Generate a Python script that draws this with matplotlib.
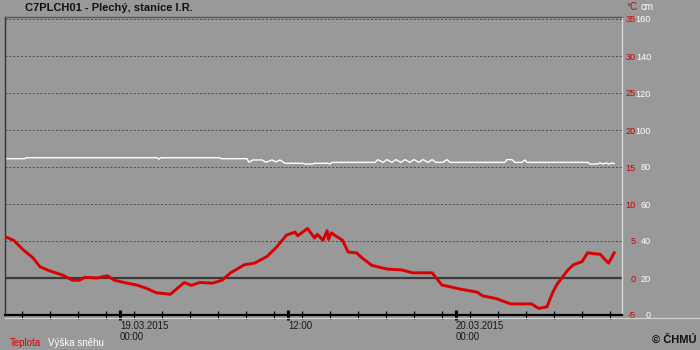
import matplotlib
matplotlib.use("Agg")
import matplotlib.pyplot as plt
import matplotlib.dates as mdates
from matplotlib.lines import Line2D
import pandas as pd

plt.rcParams['font.family'] = ['Liberation Sans', 'DejaVu Sans']

# hours relative to 19.03.2015 00:00
temp_hours = [-8.1, -7.6, -6.9, -6.2, -5.7, -5.0, -4.1, -3.4, -2.9, -2.5,
              -1.6, -0.9, -0.4, 0.5, 1.2, 1.9, 2.6, 3.6, 4.1, 4.6,
              5.1, 5.7, 6.6, 7.3, 7.9, 8.9, 9.6, 10.5, 11.2, 11.9,
              12.5, 12.7, 13.4, 13.9, 14.1, 14.5, 14.8, 14.9, 15.1, 15.4,
              15.9, 16.3, 16.9, 17.3, 18.0, 19.1, 20.1, 20.9, 22.3, 23.0,
              23.6, 24.3, 25.5, 25.9, 26.9, 27.9, 29.1, 29.4, 29.9, 30.5,
              30.9, 31.2, 31.6, 32.0, 32.4, 33.0, 33.4, 34.3, 34.9, 35.3]
temp_vals = [5.5, 5.1, 3.8, 2.7, 1.5, 0.95, 0.4, -0.3, -0.3, 0.1,
             0.0, 0.3, -0.3, -0.7, -0.95, -1.4, -2.0, -2.2, -1.4, -0.6,
             -1.0, -0.6, -0.7, -0.3, 0.7, 1.8, 2.0, 2.9, 4.2, 5.8,
             6.2, 5.7, 6.7, 5.4, 5.9, 5.1, 6.4, 5.2, 6.1, 5.7,
             5.1, 3.5, 3.4, 2.7, 1.7, 1.2, 1.1, 0.7, 0.7, -0.95,
             -1.2, -1.5, -1.9, -2.4, -2.8, -3.5, -3.5, -3.5, -4.1, -3.9,
             -2.0, -0.9, 0.1, 1.1, 1.8, 2.2, 3.4, 3.2, 2.0, 3.4]

snow_hours = [-8.14, -6.79, -6.71, 2.64, 2.79, 2.93, 7.14, 7.21, 9.07, 9.21,
              9.5, 10.14, 10.43, 10.86, 11.14, 11.43, 11.79, 13.07, 13.21, 13.71,
              13.93, 14.86, 15.0, 15.14, 18.21, 18.43, 18.79, 19.07, 19.43, 19.71,
              20.07, 20.36, 20.71, 21.0, 21.36, 21.64, 22.0, 22.29, 22.57, 23.07,
              23.36, 23.57, 27.5, 27.64, 28.0, 28.21, 28.71, 28.93, 29.07, 33.43,
              33.57, 34.07, 34.29, 34.5, 34.71, 34.93, 35.14, 35.29]
snow_vals = [84.5, 84.5, 85, 85, 84.3, 85, 85, 84.5, 84.5, 82.6,
             83.8, 83.8, 82.6, 83.8, 82.8, 83.8, 82, 82, 81.6, 81.6,
             82, 82, 81.6, 82.5, 82.5, 84, 82.5, 84, 82.5, 84,
             82.5, 84, 82.5, 84, 82.5, 84, 82.5, 84, 82.5, 82.5,
             84, 82.5, 82.5, 84, 84, 82.5, 82.5, 83.8, 82.5, 82.5,
             81.6, 81.6, 82.2, 81.6, 82.2, 81.6, 82.2, 81.8]

temp_ticks = [-5, 0, 5, 10, 15, 20, 25, 30, 35]
snow_ticks = [0, 20, 40, 60, 80, 100, 120, 140, 160]

base = pd.Timestamp('2015-03-19 00:00')
t_temp = base + pd.to_timedelta(temp_hours, unit='h')
t_snow = base + pd.to_timedelta(snow_hours, unit='h')

bg = '#999999'
fig = plt.figure(figsize=(7, 3.5), dpi=100, facecolor=bg)
W, H = 700, 350
ax = fig.add_axes([5 / W, 1 - 315 / H, 617 / W, 298 / H], facecolor=bg)

t_top = 35 + 2 / 7.4
ax.set_ylim(-5, t_top)
ax.set_xlim(base + pd.Timedelta(hours=-8.21), base + pd.Timedelta(hours=35.86))

# grid
for v in temp_ticks[2:]:
    ax.axhline(v, color='#4a4a4a', lw=0.7, ls=(0, (2, 2)), zorder=1)
ax.axhline(0, color='#3a3a3a', lw=1.6, zorder=2)

ax2 = ax.twinx()
ax2.set_ylim(0, 20 + 4 * t_top)
ax2.plot(t_snow, snow_vals, color='white', lw=1.0, zorder=3)

ax.set_zorder(ax2.get_zorder() + 1)
ax.patch.set_visible(False)
ax.plot(t_temp, temp_vals, color='#d80000', lw=2.1, zorder=4, solid_joinstyle='round')

# spines
for a in (ax, ax2):
    for s in a.spines.values():
        s.set_visible(False)
ax.spines['left'].set_visible(True)
ax.spines['left'].set_color('#333333')
ax.spines['left'].set_linewidth(1.0)
ax.spines['top'].set_visible(True)
ax.spines['top'].set_color('#555555')
ax.spines['top'].set_linewidth(1.0)
ax.spines['right'].set_visible(True)
ax.spines['right'].set_color('#d8d8d8')
ax.spines['right'].set_linewidth(1.0)
ax.spines['bottom'].set_visible(True)
ax.spines['bottom'].set_color('black')
ax.spines['bottom'].set_linewidth(1.6)

# light line under bottom axis
fig.add_artist(Line2D([5 / W, 1.0], [1 - 318 / H, 1 - 318 / H], color='#d0d0d0', lw=0.9))

# y ticks on right
ax.yaxis.tick_right()
ax.set_yticks(temp_ticks)
ax.set_yticklabels([str(v) for v in temp_ticks])
ax.tick_params(axis='y', length=0, pad=10.1, labelsize=6.6, labelcolor='#cc0000')
for lab in ax.get_yticklabels():
    lab.set_horizontalalignment('right')
ax2.set_yticks(snow_ticks)
ax2.set_yticklabels([str(v) for v in snow_ticks])
ax2.tick_params(axis='y', length=0, pad=21, labelsize=6.6, labelcolor='white')
for lab in ax2.get_yticklabels():
    lab.set_horizontalalignment('right')
ax2.tick_params(axis='x', which='both', bottom=False, labelbottom=False)

# x ticks
ax.xaxis.set_major_locator(mdates.HourLocator(byhour=[0, 12]))
ax.xaxis.set_minor_locator(mdates.HourLocator(interval=2))


def fmt(x, pos=None):
    d = mdates.num2date(x)
    if d.hour == 0:
        return d.strftime('%d.%m.%Y\n%H:%M')
    return d.strftime('%H:%M')


ax.xaxis.set_major_formatter(plt.FuncFormatter(fmt))
ax.tick_params(axis='x', which='major', direction='inout', length=6.5, width=2.2,
               color='black', labelsize=7, labelcolor='#1a1a1a', pad=1,
               bottom=True, labelbottom=True)
ax.tick_params(axis='x', which='minor', direction='inout', length=6, width=0.9, color='black')
for lab in ax.get_xticklabels():
    lab.set_horizontalalignment('left')
    lab.set_verticalalignment('top')
    lab.set_linespacing(1.15)

# texts
fig.text(25 / W, 1 - 8 / H, 'C7PLCH01 - Plechý, stanice I.R.', fontsize=8, fontweight='bold',
         color='#111111', va='center', ha='left')
fig.text(637 / W, 1 - 7 / H, '°C', fontsize=7, color='#cc0000', va='center', ha='right')
fig.text(641 / W, 1 - 7 / H, 'cm', fontsize=7, color='white', va='center', ha='left')
fig.text(10 / W, 1 - 343 / H, 'Teplota', fontsize=7, color='#dd0000', va='center', ha='left')
fig.text(48 / W, 1 - 343 / H, 'Výška sněhu', fontsize=7, color='white', va='center', ha='left')
fig.text(697 / W, 1 - 340 / H, '© ČHMÚ', fontsize=8, fontweight='bold', color='#111111',
         va='center', ha='right')

fig.savefig('out.png', dpi=100, facecolor=bg)
